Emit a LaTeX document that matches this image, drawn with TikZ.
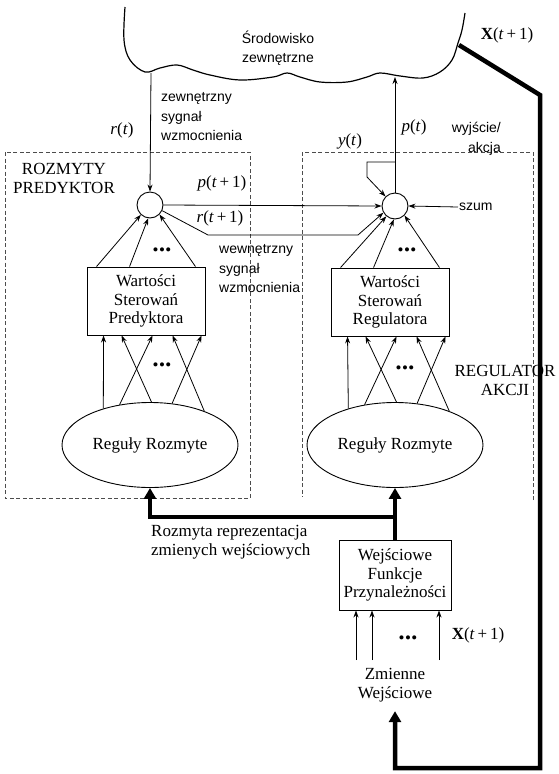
\documentclass[tikz,border=0pt]{standalone}
\usepackage{fontspec}
\setmainfont{Liberation Serif}
\setsansfont{Liberation Sans}
\usetikzlibrary{arrows.meta,shapes.geometric}

\tikzset{
  lbl/.style={font=\fontsize{17}{19}\selectfont, inner sep=1pt},
  sanslbl/.style={font=\sffamily\fontsize{14}{19.5}\selectfont, inner sep=1pt},
  valbox/.style={draw, line width=0.9pt, align=center, font=\fontsize{17}{18.5}\selectfont,
    minimum width=118, minimum height=68, inner sep=1pt},
  rulenode/.style={draw, ellipse, line width=0.9pt, font=\fontsize{17}{19}\selectfont,
    minimum width=176, minimum height=85, inner sep=0pt},
  sumnode/.style={draw, circle, line width=0.9pt, minimum size=26, inner sep=0pt},
  arr/.style={-{Stealth[length=7pt,width=5pt]}, line width=0.8pt},
  thickarr/.style={-{Triangle[length=11pt,width=12pt]}, line width=4.5pt},
  regionline/.style={line width=0.6pt, black!70, dash pattern=on 4pt off 2.5pt},
}
\newcommand{\tridots}{\textbullet\kern0.5pt\textbullet\kern0.5pt\textbullet}

\begin{document}
\begin{tikzpicture}[x=1pt,y=-1pt]
\useasboundingbox (0,0) rectangle (559,774);

% otoczenie
\draw[line width=1.2pt] plot[smooth, tension=0.6] coordinates {(125,7) (124,40) (130,60) (145,72)
  (160,68) (177,65) (193,70) (210,75) (240,80) (273,77) (287,73) (300,77) (320,82) (347,82)
  (367,77) (380,73) (400,76) (423,78) (440,72) (452,60) (458,43) (462,30) (465,13)};
\coordinate (rsrc) at (151,73);
\coordinate (psink) at (395,77);
\coordinate (xsrc) at (459,45);
\node[sanslbl, align=center] (srodl) at (278,48) {Środowisko\\zewnętrzne};
\node[lbl] (xtop) at (507,35) {\textbf{X}(\textit{t}\,+\,1)};

% obszary
\draw[regionline] (5,152) rectangle (250,498);
\draw[regionline] (533,500) -- (533,152) -- (302,152) -- (302,497);
\node[lbl, align=center] (rozl) at (64,178) {ROZMYTY\\PREDYKTOR};
\node[lbl, align=center] (regl) at (505,380) {REGULATOR\\AKCJI};

% wezly
\node[sumnode] (sp) at (150,205) {};
\node[sumnode] (sr) at (395,206) {};
\node[valbox] (wp) at (146,301) {Wartości\\Sterowań\\Predyktora};
\node[valbox] (wr) at (390,302) {Wartości\\Sterowań\\Regulatora};
\node[rulenode] (ep) at (150,445) {Reguły Rozmyte};
\node[rulenode] (er) at (395,445) {Reguły Rozmyte};
\node[valbox, minimum width=112, minimum height=70] (wf) at (395,575) {Wejściowe\\Funkcje\\Przynależności};
\node[lbl, align=center] (zmwl) at (395,685) {Zmienne\\Wejściowe};

% etykiety
\node[lbl] (rtl) at (122,130) {\textit{r}(\textit{t})};
\node[sanslbl, align=left, anchor=west] (zewl) at (160,117) {zewnętrzny\\sygnał\\wzmocnienia};
\node[sanslbl, align=left, anchor=west] (wewl) at (218,269) {wewnętrzny\\sygnał\\wzmocnienia};
\node[lbl] (pt1) at (222,183) {\textit{p}(\textit{t}\,+\,1)};
\node[lbl] (rt1) at (220,218) {\textit{r}(\textit{t}\,+\,1)};
\node[lbl] (ytl) at (350,141) {\textit{y}(\textit{t})};
\node[lbl] (ptl) at (414,127) {\textit{p}(\textit{t})};
\node[sanslbl, align=right, anchor=east] (wyjl) at (502,139) {wyjście/\\akcja};
\node[sanslbl, anchor=west] (szuml) at (458,207) {szum};
\node[lbl, align=left, anchor=west] (rozrl) at (150,542) {Rozmyta reprezentacja\\zmienych wejściowych};
\node[lbl] (xbot) at (478,635) {\textbf{X}(\textit{t}\,+\,1)};
\node[lbl] (dp1) at (162,252) {\tridots};
\node[lbl] (dr1) at (407,252) {\tridots};
\node[lbl] (dp2) at (162,367) {\tridots};
\node[lbl] (dr2) at (405,370) {\tridots};
\node[lbl] (dwf) at (408,640) {\tridots};

% sygnaly miedzy sumatorami
\draw[arr] (rsrc) -- (sp.north);
\draw[arr] (sp.east) -- (sr.west);
\draw[arr] (sp.-25) -- (208,235) -- (358,235) -- (sr.-150);
\draw[arr] (sr.north) -- (psink);
\coordinate (fbtap) at (395,162);
\draw[arr] (fbtap) -- (367,162) -- (367,177) -- (sr.135);
\draw[arr] (szuml.west) -- (sr.east);

% wartosci -> sumatory
\draw[arr] ([xshift=10]wp.north west) -- (sp.-133);
\draw[arr] ([xshift=43]wp.north west) -- (sp.-98);
\draw[arr] ([xshift=-10]wp.north east) -- (sp.-45);
\draw[arr] ([xshift=10]wr.north west) -- (sr.-130);
\draw[arr] ([xshift=43]wr.north west) -- (sr.-95);
\draw[arr] ([xshift=-10]wr.north east) -- (sr.-45);

% reguly -> wartosci
\draw[arr] (ep.142) -- ([xshift=17]wp.south west);
\draw[arr] (ep.127) -- ([xshift=66]wp.south west);
\draw[arr] (ep.88) -- ([xshift=35]wp.south west);
\draw[arr] (ep.62) -- ([xshift=115]wp.south west);
\draw[arr] (ep.32) -- ([xshift=86]wp.south west);
\draw[arr] (er.142) -- ([xshift=17]wr.south west);
\draw[arr] (er.127) -- ([xshift=66]wr.south west);
\draw[arr] (er.88) -- ([xshift=35]wr.south west);
\draw[arr] (er.62) -- ([xshift=115]wr.south west);
\draw[arr] (er.32) -- ([xshift=86]wr.south west);

% wejscia
\coordinate (in1) at (356,660);
\coordinate (in2) at (372,660);
\coordinate (in3) at (439,660);
\draw[arr] (in1) -- (in1 |- wf.south);
\draw[arr] (in2) -- (in2 |- wf.south);
\draw[arr] (in3) -- (in3 |- wf.south);

% reprezentacja rozmyta
\coordinate (br) at (395,517);
\draw[thickarr] (wf.north) -- (er.south);
\draw[thickarr] (br) -| (ep.south);
\draw[thickarr] (xsrc) -- (540,95) -- (540,768) -| ([yshift=-8]zmwl.south);
\end{tikzpicture}
\end{document}
